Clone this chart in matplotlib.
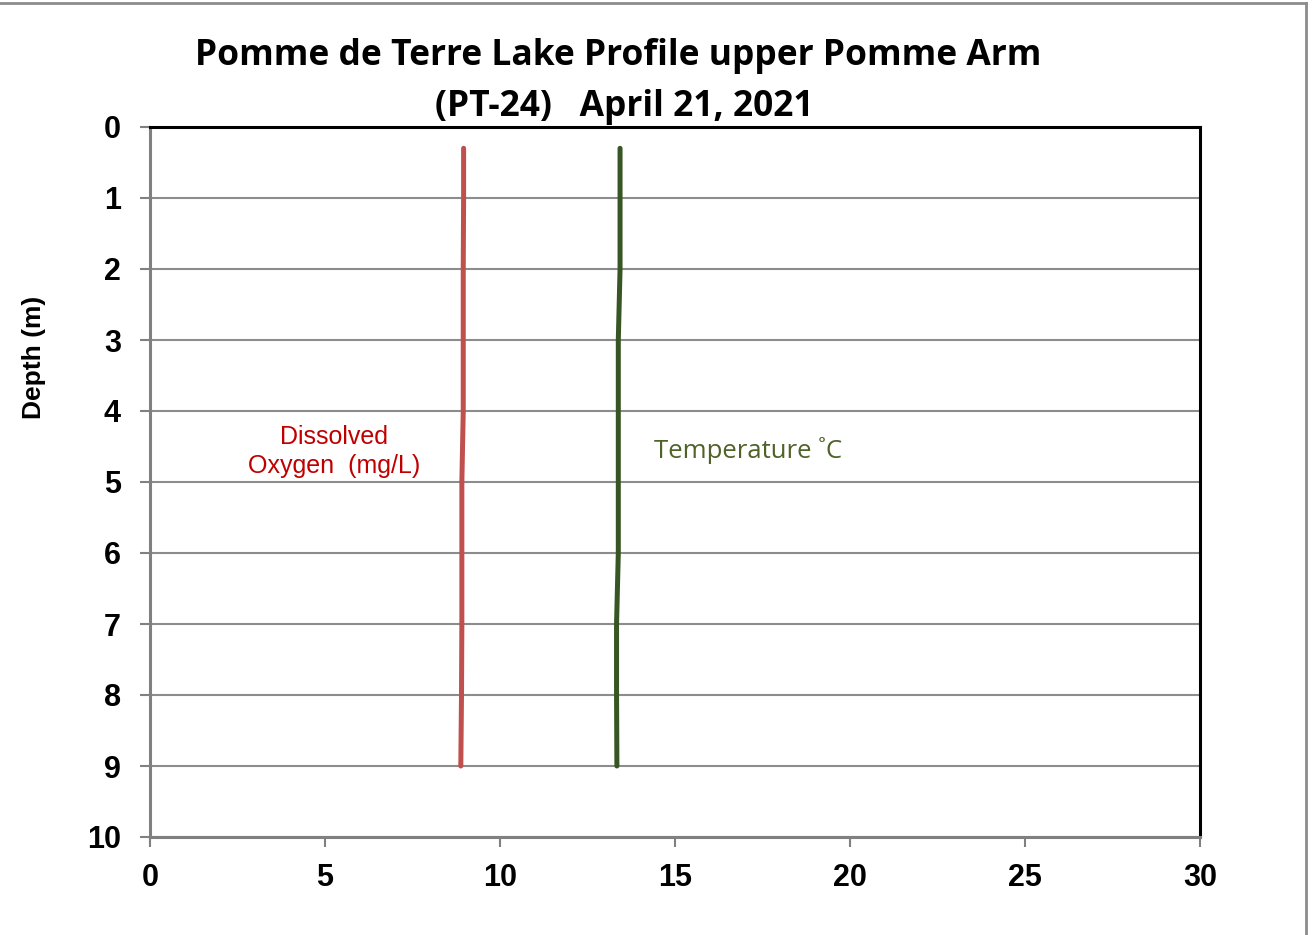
import matplotlib
matplotlib.use("Agg")
import matplotlib.pyplot as plt
from matplotlib.lines import Line2D

depth = [0.3, 1, 2, 3, 4, 5, 6, 7, 8, 9]
dissolved_oxygen = [8.96, 8.96, 8.95, 8.95, 8.95, 8.91, 8.91, 8.91, 8.90, 8.88]
temperature = [13.43, 13.43, 13.43, 13.38, 13.38, 13.38, 13.38, 13.33, 13.33, 13.34]
x_ticks = [0, 5, 10, 15, 20, 25, 30]
y_ticks = [0, 1, 2, 3, 4, 5, 6, 7, 8, 9, 10]

fig = plt.figure(figsize=(13.16, 9.35), dpi=100)
ax = fig.add_axes([150/1316, 1-837/935, 1050/1316, 710/935])

ax.plot(dissolved_oxygen, depth, color="#C0504D", lw=3.6, solid_capstyle="round", zorder=3)
ax.plot(temperature, depth, color="#375623", lw=3.6, solid_capstyle="round", zorder=3)

ax.set_xlim(0, 30)
ax.set_ylim(10, 0)
ax.set_xticks(x_ticks)
ax.set_yticks(y_ticks)
ax.yaxis.grid(True, color="#8C8C8C", lw=1.5, zorder=1)
ax.set_axisbelow(True)

for t in ax.get_xticklabels() + ax.get_yticklabels():
    t.set_fontfamily("Liberation Sans")
    t.set_fontweight("bold")
    t.set_fontsize(22)
ax.tick_params(axis="both", direction="out", length=7, width=1.5, color="#808080")
ax.tick_params(axis="x", pad=12)
ax.tick_params(axis="y", pad=14)

for s in ["top", "right"]:
    ax.spines[s].set_color("black")
    ax.spines[s].set_linewidth(2.2)
for s in ["left", "bottom"]:
    ax.spines[s].set_color("#808080")
    ax.spines[s].set_linewidth(2.2)

ax.set_ylabel("Depth (m)", fontfamily="Liberation Sans", fontweight="bold", fontsize=19)
ax.yaxis.set_label_coords(-104/1050, 1-(357-127)/710)

fig.text(618/1316, 1-56/935, "Pomme de Terre Lake Profile upper Pomme Arm",
         ha="center", va="center", fontfamily="Open Sans", fontweight="bold", fontsize=25.5)
fig.text(624/1316, 1-107/935, "(PT-24)   April 21, 2021",
         ha="center", va="center", fontfamily="Open Sans", fontweight="bold", fontsize=25.5)

ax.text(5.25, 4.57, "Dissolved\nOxygen  (mg/L)", color="#C00000", ha="center", va="center",
        fontfamily="Liberation Sans", fontsize=18, linespacing=1.3)
ax.text(17.1, 4.55, "Temperature ˚C", color="#4F6228", ha="center", va="center",
        fontfamily="Open Sans", fontsize=18.5)

fig.lines.append(Line2D([0, 1306/1316], [1-3/935, 1-3/935], transform=fig.transFigure,
                        color="#8C8C8C", lw=2))
fig.lines.append(Line2D([1306/1316, 1306/1316], [0, 1-3/935], transform=fig.transFigure,
                        color="#8C8C8C", lw=2))

fig.savefig("out.png", dpi=100)
